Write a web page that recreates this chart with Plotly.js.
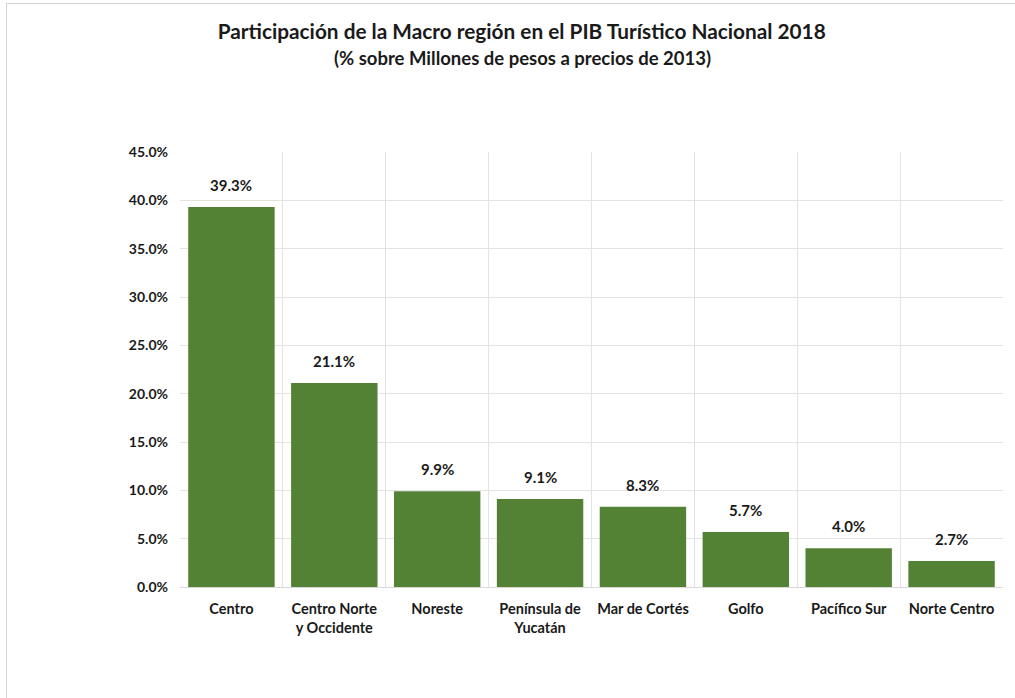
<!DOCTYPE html>
<html>
<head>
<meta charset="utf-8">
<script src="https://cdn.plot.ly/plotly-3.0.1.min.js"></script>
<style>
html,body{margin:0;padding:0;background:#fff;}
#wrap{position:relative;width:1015px;height:698px;}
#chart{width:1015px;height:698px;}
#frame{position:absolute;left:6px;top:3px;width:1100px;height:800px;border-top:1.5px solid #d4d4d4;border-left:1.5px solid #d4d4d4;pointer-events:none;}
</style>
</head>
<body>
<div id="wrap"><div id="chart"></div><div id="frame"></div></div>
<script>
const categories = ["Centro", "Centro Norte<br>y Occidente", "Noreste", "Península de<br>Yucatán", "Mar de Cortés", "Golfo", "Pacífico Sur", "Norte Centro"];
const values = [39.3, 21.1, 9.9, 9.1, 8.3, 5.7, 4.0, 2.7];
const labels = values.map(v => v.toFixed(1) + "%");
const yTicks = [0, 5, 10, 15, 20, 25, 30, 35, 40, 45];
const yTickText = yTicks.map(v => v.toFixed(1) + "%");
const titleText = "Participación de la Macro región en el PIB Turístico Nacional 2018";
const subtitleText = "(% sobre Millones de pesos a precios de 2013)";

const font = "Lato, 'Open Sans', sans-serif";

const trace = {
  type: "bar",
  x: categories,
  y: values,
  marker: {color: "#548235"},
  hoverinfo: "x+y"
};

const annotations = categories.map((c, i) => ({
  x: c, y: values[i], xref: "x", yref: "y",
  text: "<b>" + labels[i] + "</b>",
  showarrow: false,
  yanchor: "bottom",
  yshift: 11,
  font: {family: font, size: 15, color: "#1a1a1a"}
}));
annotations.push({
  xref: "paper", yref: "paper", x: 0.4156, y: 1.216, xanchor: "center", yanchor: "middle",
  text: "<b>" + subtitleText + "</b>", showarrow: false,
  font: {family: font, size: 18.5, color: "#1a1a1a"}
});

const layout = {
  width: 1015,
  height: 698,
  paper_bgcolor: "#ffffff",
  plot_bgcolor: "#ffffff",
  margin: {l: 180, r: 12, t: 152, b: 111},
  bargap: 0.16,
  showlegend: false,
  annotations: annotations,
  title: {
    text: "<b>" + titleText + "</b>",
    font: {family: font, size: 20.8, color: "#1a1a1a"},
    x: 0.514, xanchor: "center", xref: "container",
    y: 0.954, yanchor: "middle", yref: "container"
  },
  xaxis: {
    type: "category",
    tickson: "boundaries",
    showgrid: true,
    gridcolor: "#e3e3e3",
    gridwidth: 1,
    showline: true,
    linecolor: "#d9d9d9",
    ticks: "",
    tickangle: 0,
    ticklabelstandoff: 9,
    tickfont: {family: font, size: 14.5, color: "#1a1a1a", weight: "bold"},
    automargin: false
  },
  yaxis: {
    range: [0, 45],
    tickvals: yTicks,
    ticktext: yTickText,
    showgrid: true,
    gridcolor: "#e3e3e3",
    gridwidth: 1,
    zeroline: false,
    showline: false,
    ticks: "",
    ticklen: 0,
    ticklabelstandoff: 11,
    tickfont: {family: font, size: 14, color: "#1a1a1a", weight: "bold"},
    automargin: false
  }
};

Plotly.newPlot("chart", [trace], layout, {displayModeBar: false, staticPlot: true});
</script>
</body>
</html>
